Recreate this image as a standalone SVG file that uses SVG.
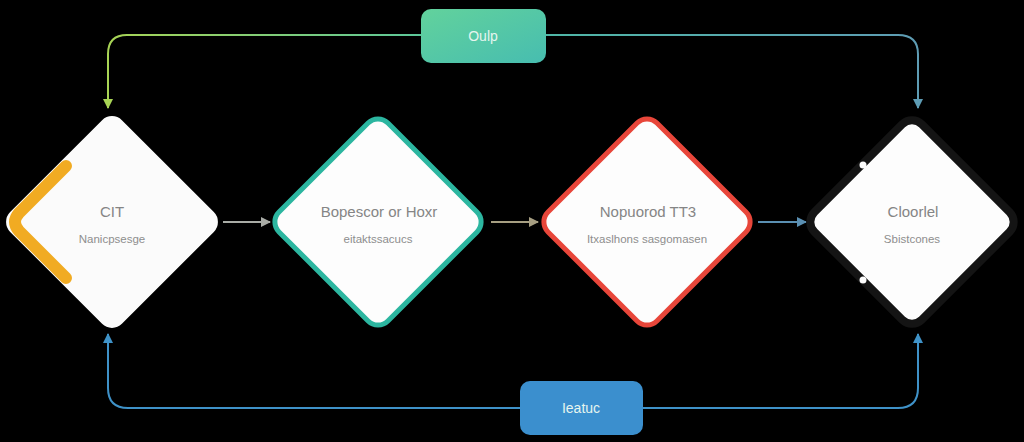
<svg xmlns="http://www.w3.org/2000/svg" width="1024" height="442" viewBox="0 0 1024 442">
<defs>
<linearGradient id="gTop" x1="0" y1="0" x2="1" y2="1"><stop offset="0" stop-color="#62d29c"/><stop offset="1" stop-color="#47bdb0"/></linearGradient>
<linearGradient id="gLineL" x1="0" y1="0" x2="1" y2="0"><stop offset="0" stop-color="#a8d455"/><stop offset="1" stop-color="#5cc79a"/></linearGradient>
<linearGradient id="gLineR" x1="0" y1="0" x2="1" y2="0"><stop offset="0" stop-color="#4fb6a6"/><stop offset="1" stop-color="#5e9cb4"/></linearGradient>
<marker id="aGreen" viewBox="0 0 10 10" refX="9" refY="5" markerWidth="5" markerHeight="5" orient="auto"><path d="M0,0 L10,5 L0,10 Z" fill="#a8d455"/></marker>
<marker id="aTeal" viewBox="0 0 10 10" refX="9" refY="5" markerWidth="5" markerHeight="5" orient="auto"><path d="M0,0 L10,5 L0,10 Z" fill="#5e9cb4"/></marker>
<marker id="aBlue" viewBox="0 0 10 10" refX="9" refY="5" markerWidth="5" markerHeight="5" orient="auto"><path d="M0,0 L10,5 L0,10 Z" fill="#3f92c8"/></marker>
<marker id="aGray" viewBox="0 0 10 10" refX="9" refY="5" markerWidth="5" markerHeight="5" orient="auto"><path d="M0,0 L10,5 L0,10 Z" fill="#a9aca6"/></marker>
<marker id="aOlive" viewBox="0 0 10 10" refX="9" refY="5" markerWidth="5" markerHeight="5" orient="auto"><path d="M0,0 L10,5 L0,10 Z" fill="#a79f82"/></marker>
<marker id="aSteel" viewBox="0 0 10 10" refX="9" refY="5" markerWidth="5" markerHeight="5" orient="auto"><path d="M0,0 L10,5 L0,10 Z" fill="#5a8fb2"/></marker>
</defs>
<style>
.title{font-family:"Liberation Sans",Arial,sans-serif;font-size:15px;fill:#858585;text-anchor:middle}
.sub{font-family:"Liberation Sans",Arial,sans-serif;font-size:11.5px;fill:#8e8e8e;text-anchor:middle}
.btxt{font-family:"Liberation Sans",Arial,sans-serif;font-size:14px;fill:#e6f5ef;text-anchor:middle}
.conn{fill:none;stroke-width:2}
</style>
<rect width="1024" height="442" fill="#000"/>
<g id="connectors">
<path class="conn" d="M421,35 L127,35 Q108,35 108,54 L108,108" stroke="url(#gLineL)" marker-end="url(#aGreen)"/>
<path class="conn" d="M546,35 L898,35 Q918,35 918,54 L918,108" stroke="url(#gLineR)" marker-end="url(#aTeal)"/>
<path class="conn" d="M520,408 L128,408 Q108,408 108,388 L108,334" stroke="#3f92c8" marker-end="url(#aBlue)"/>
<path class="conn" d="M643,408 L898,408 Q918,408 918,388 L918,334" stroke="#3f92c8" marker-end="url(#aBlue)"/>
<path class="conn" d="M223,222 L270,222" stroke="#a9aca6" marker-end="url(#aGray)"/>
<path class="conn" d="M491,222 L538,222" stroke="#a79f82" marker-end="url(#aOlive)"/>
<path class="conn" d="M758,222 L806,222" stroke="#5a8fb2" marker-end="url(#aSteel)"/>
</g>
<g id="node-top">
<rect x="421" y="9" width="125" height="54" rx="10" fill="url(#gTop)"/>
<text class="btxt" x="483" y="41">Oulp</text>
</g>
<g id="node-bottom">
<rect x="520" y="381" width="123" height="54" rx="10" fill="#3b8fce"/>
<text class="btxt" x="581" y="413">Ieatuc</text>
</g>
<g id="node1">
<rect x="33" y="143" width="158" height="158" rx="14" transform="rotate(45 112 222)" fill="#fbfbfb"/>
<path d="M66,166 L19,213 Q11,222 19,231 L66,278" fill="none" stroke="#f1ab22" stroke-width="12" stroke-linecap="round" stroke-linejoin="round"/>
<text class="title" x="112" y="217">CIT</text>
<text class="sub" x="112" y="243">Nanicpsesge</text>
</g>
<g id="node2">
<rect x="301" y="145" width="154" height="154" rx="14" transform="rotate(45 378 222)" fill="#fdfdfd" stroke="#2cb6a0" stroke-width="5"/>
<text class="title" x="379" y="217">Bopescor or Hoxr</text>
<text class="sub" x="378" y="243">eitaktssacucs</text>
</g>
<g id="node3">
<rect x="570" y="145" width="154" height="154" rx="14" transform="rotate(45 647 222)" fill="#fdfdfd" stroke="#e8463a" stroke-width="5"/>
<text class="title" x="648" y="217">Nopuorod TT3</text>
<text class="sub" x="647" y="243">Itxaslhons sasgomasen</text>
</g>
<g id="node4">
<rect x="836" y="146" width="152" height="152" rx="14" transform="rotate(45 912 222)" fill="#fdfdfd" stroke="#141414" stroke-width="8"/>
<circle cx="863" cy="165" r="3.5" fill="#fdfdfd"/>
<circle cx="863" cy="280" r="3.5" fill="#fdfdfd"/>
<text class="title" x="913" y="217">Cloorlel</text>
<text class="sub" x="912" y="243">Sbistcones</text>
</g>
</svg>
